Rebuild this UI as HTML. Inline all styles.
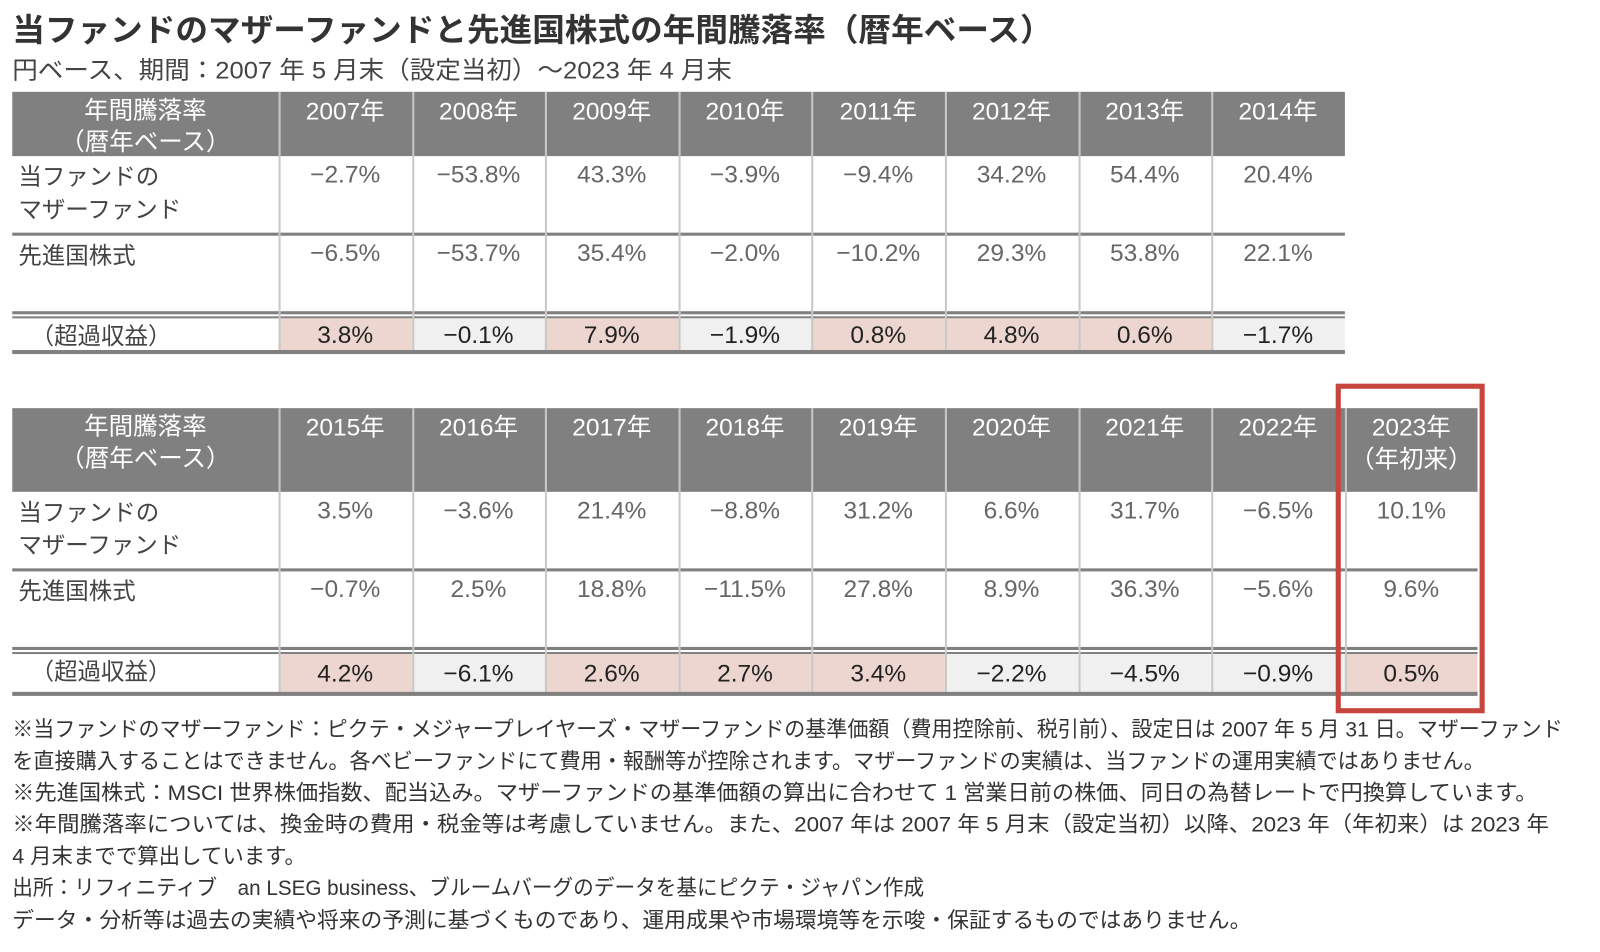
<!DOCTYPE html>
<html><head><meta charset="utf-8">
<style>
body{margin:0;width:1600px;height:952px;background:#fff;position:relative;overflow:hidden;font-family:"Liberation Sans","Noto Sans CJK JP",sans-serif;color:#333}
#wrap{position:absolute;left:0;top:0;width:1568px;height:933px;transform:scale(1.0204);transform-origin:0 0}
.t{position:absolute;white-space:nowrap;transform-origin:0 0;line-height:1}
.box{position:absolute}
</style></head><body>
<div id="wrap">
<div class="t fit" data-w="1020" style="left:12px;top:14px;font-size:31px;font-weight:bold;color:#333">当ファンドのマザーファンドと先進国株式の年間騰落率（暦年ベース）</div>
<div class="t fit" data-w="705" style="left:12px;top:58px;font-size:24px;color:#444">円ベース、期間：2007 年 5 月末（設定当初）～2023 年 4 月末</div>
<div id="tables"></div>
<div class="box" style="left:1309px;top:376px;width:136px;height:313px;border:5px solid #c8453e"></div>
<div class="t fit" data-w="1520" style="left:12px;top:705px;font-size:21px">※当ファンドのマザーファンド：ピクテ・メジャープレイヤーズ・マザーファンドの基準価額（費用控除前、税引前）、設定日は 2007 年 5 月 31 日。マザーファンド</div>
<div class="t fit" data-w="1443" style="left:12px;top:736px;font-size:21px">を直接購入することはできません。各ベビーファンドにて費用・報酬等が控除されます。マザーファンドの実績は、当ファンドの運用実績ではありません。</div>
<div class="t fit" data-w="1495" style="left:12px;top:767px;font-size:21px">※先進国株式：MSCI 世界株価指数、配当込み。マザーファンドの基準価額の算出に合わせて 1 営業日前の株価、同日の為替レートで円換算しています。</div>
<div class="t fit" data-w="1506" style="left:12px;top:798px;font-size:21px">※年間騰落率については、換金時の費用・税金等は考慮していません。また、2007 年は 2007 年 5 月末（設定当初）以降、2023 年（年初来）は 2023 年</div>
<div class="t fit" data-w="288" style="left:12px;top:829px;font-size:21px">4 月末までで算出しています。</div>
<div class="t fit" data-w="894" style="left:12px;top:860px;font-size:21px">出所：リフィニティブ　an LSEG business、ブルームバーグのデータを基にピクテ・ジャパン作成</div>
<div class="t fit" data-w="1214" style="left:12px;top:892px;font-size:21px">データ・分析等は過去の実績や将来の予測に基づくものであり、運用成果や市場環境等を示唆・保証するものではありません。</div>
</div>
<script>
const years1=["2007年","2008年","2009年","2010年","2011年","2012年","2013年","2014年"];
const fund1=[-2.7,-53.8,43.3,-3.9,-9.4,34.2,54.4,20.4];
const index1=[-6.5,-53.7,35.4,-2.0,-10.2,29.3,53.8,22.1];
const excess1=[3.8,-0.1,7.9,-1.9,0.8,4.8,0.6,-1.7];
const years2=["2015年","2016年","2017年","2018年","2019年","2020年","2021年","2022年","2023年<br>（年初来）"];
const fund2=[3.5,-3.6,21.4,-8.8,31.2,6.6,31.7,-6.5,10.1];
const index2=[-0.7,2.5,18.8,-11.5,27.8,8.9,36.3,-5.6,9.6];
const excess2=[4.2,-6.1,2.6,2.7,3.4,-2.2,-4.5,-0.9,0.5];

const root=document.getElementById('tables');
const X0=12,LW=261,CW=130.6;
function fmt(v){return (v<0?'−':'')+Math.abs(v).toFixed(1)+'%';}
function mk(name,style,html){
  const d=document.createElement('div');
  
  
  d.style.cssText=style;
  if(html!==undefined)d.innerHTML=html;
  root.appendChild(d);return d;
}
function table(tag,top,hh,years,fund,idx,exc){
  const n=years.length, W=LW+CW*n, r1=top+hh, r2=r1+77, r3=r2+77, ex=r3+5, exh=hh>70?37:31;
  mk(tag+'-header-bg',`position:absolute;left:${X0}px;top:${top}px;width:${W}px;height:${hh}px;background:#808080`);
  mk(tag+'-header-label',`position:absolute;left:${X0}px;top:${top+3}px;width:${LW}px;text-align:center;color:#fff;font-size:24px;line-height:31px`,'年間騰落率<br>（暦年ベース）');
  mk(tag+'-row-label-fund',`position:absolute;left:${X0+6}px;top:${r1+4}px;font-size:23px;line-height:32px;color:#444`,'当ファンドの<br>マザーファンド');
  mk(tag+'-row-label-index',`position:absolute;left:${X0+6}px;top:${r2+4}px;font-size:23px;line-height:32px;color:#444`,'先進国株式');
  mk(tag+'-row-label-excess',`position:absolute;left:${X0+18}px;top:${ex+2}px;font-size:23px;line-height:30px;color:#444`,'（超過収益）');
  mk(tag+'-line-1',`position:absolute;left:${X0}px;top:${r2-2}px;width:${W}px;height:3px;background:#808080`);
  mk(tag+'-line-2',`position:absolute;left:${X0}px;top:${r3-2}px;width:${W}px;height:3px;background:#808080`);
  mk(tag+'-line-3',`position:absolute;left:${X0}px;top:${r3+3}px;width:${W}px;height:2px;background:#808080`);
  for(let i=0;i<n;i++){
    const x=X0+LW+CW*i;
    const pos=exc[i]>=0;
    mk(tag+'-excess-cell-'+i,`position:absolute;left:${x}px;top:${ex}px;width:${CW}px;height:${exh}px;background:${pos?'#ecd6cf':'#f0f0f0'}`);
    mk(tag+'-col-divider-'+i,`position:absolute;left:${x}px;top:${top}px;width:2px;height:${ex+exh-top}px;background:#c8c8c8`);
    mk(tag+'-year-'+i,`position:absolute;left:${x}px;top:${top+4}px;width:${CW}px;text-align:center;color:#fff;font-size:24px;line-height:31px`,years[i]);
    mk(tag+'-fund-'+i,`position:absolute;left:${x}px;top:${r1+4}px;width:${CW}px;text-align:center;color:#666;font-size:24px;line-height:30px`,fmt(fund[i]));
    mk(tag+'-index-'+i,`position:absolute;left:${x}px;top:${r2+4}px;width:${CW}px;text-align:center;color:#666;font-size:24px;line-height:30px`,fmt(idx[i]));
    mk(tag+'-excess-'+i,`position:absolute;left:${x}px;top:${ex+1}px;width:${CW}px;height:${exh}px;text-align:center;color:#222;font-size:24px;line-height:${exh}px`,fmt(exc[i]));
  }
  mk(tag+'-bottom-line',`position:absolute;left:${X0}px;top:${ex+exh}px;width:${W}px;height:4px;background:#808080`);
}
table('table-2007-2014',90,63,years1,fund1,index1,excess1);
table('table-2015-2023',400,82,years2,fund2,index2,excess2);
document.querySelectorAll('.fit').forEach(el=>{
  const w=+el.dataset.w, a=el.scrollWidth;
  if(a>0)el.style.transform=`scaleX(${w/a})`;
});
</script>
</body></html>
